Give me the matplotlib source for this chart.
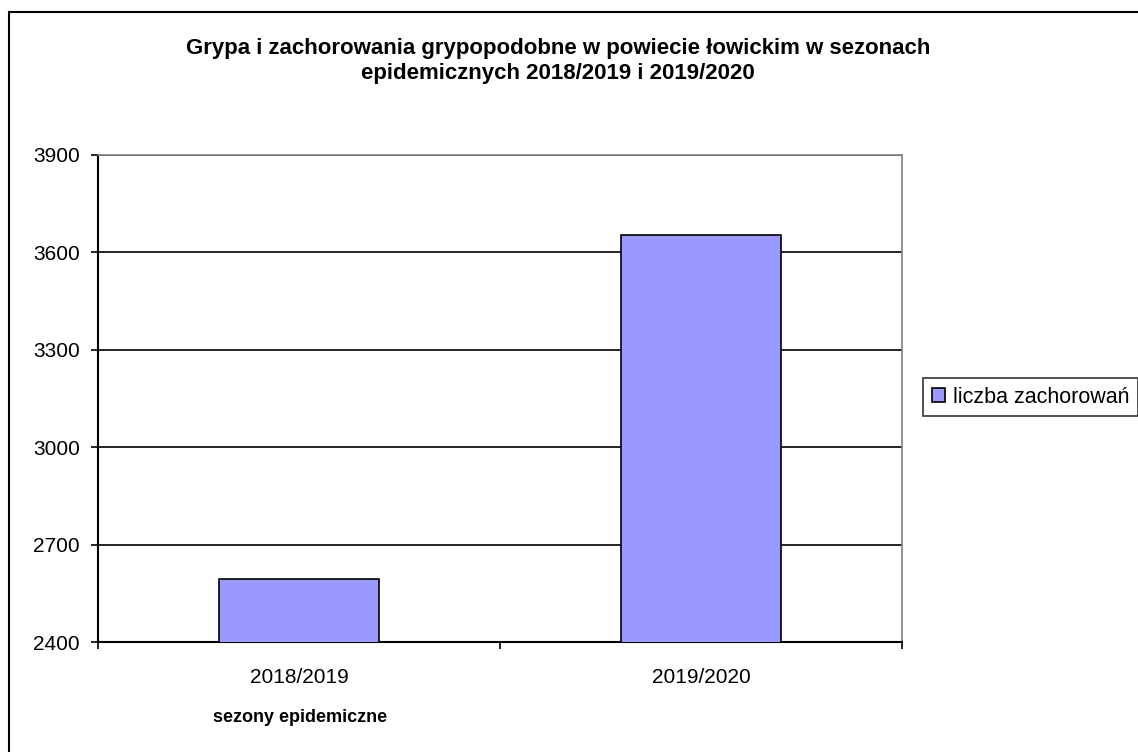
import matplotlib
matplotlib.use('Agg')
import matplotlib.pyplot as plt
from matplotlib.patches import Rectangle

plt.rcParams['font.family'] = ['Liberation Sans', 'DejaVu Sans']

#------
# Data
#------
seasons = ['2018/2019', '2019/2020']
cases = [2595, 3654]
series_name = 'liczba zachorowań'
title = 'Grypa i zachorowania grypopodobne w powiecie łowickim w sezonach\nepidemicznych 2018/2019 i 2019/2020'
xlabel = 'sezony epidemiczne'
yticks = [2400, 2700, 3000, 3300, 3600, 3900]

W, H = 1138, 752
fig = plt.figure(figsize=(W / 100, H / 100), dpi=100)

# outer chart frame (runs off the right and bottom edges)
fig.patches.append(Rectangle((9 / W, -0.1), 1.2, 1 - 12 / H + 0.1,
                             transform=fig.transFigure, fill=False,
                             edgecolor='black', linewidth=1.5))

ax = fig.add_axes([98 / W, 1 - 642 / H, 804 / W, 487 / H])

x = range(len(seasons))
bars = ax.bar(x, cases, width=0.4, color='#9999ff', edgecolor='black',
              linewidth=1.2, label=series_name, zorder=3)

ax.set_xlim(-0.5, len(seasons) - 0.5)
ax.set_ylim(yticks[0], yticks[-1])
ax.set_yticks(yticks)
ax.yaxis.grid(True, color='black', linewidth=1.2, zorder=0)

# category ticks at boundaries, labels at centres
ax.set_xticks([-0.5, 0.5, 1.5])
ax.set_xticklabels([])
ax.set_xticks(list(x), minor=True)
ax.set_xticklabels(seasons, minor=True)
ax.tick_params(axis='x', which='minor', length=0, pad=19, labelsize=15)
ax.tick_params(axis='x', which='major', length=5, width=1.2)
ax.tick_params(axis='y', length=5, width=1.2, labelsize=15, pad=8)

for side in ['top', 'right']:
    ax.spines[side].set_color('#808080')
    ax.spines[side].set_linewidth(1.2)
for side in ['left', 'bottom']:
    ax.spines[side].set_linewidth(1.5)

fig.text(558 / W, 1 - 61 / H, title, ha='center', va='center',
         fontsize=16, fontweight='bold', linespacing=1.3)
fig.text(300 / W, 1 - 717 / H, xlabel, ha='center', va='center',
         fontsize=13, fontweight='bold')

leg = fig.legend(loc='upper left', bbox_to_anchor=(923 / W, 1 - 378 / H),
                 fancybox=False, edgecolor='black', fontsize=15.5,
                 handlelength=0.6, handleheight=0.6, handletextpad=0.4,
                 borderpad=0.4, borderaxespad=0)
leg.get_frame().set_linewidth(1.2)

fig.savefig('out.png', dpi=100)
